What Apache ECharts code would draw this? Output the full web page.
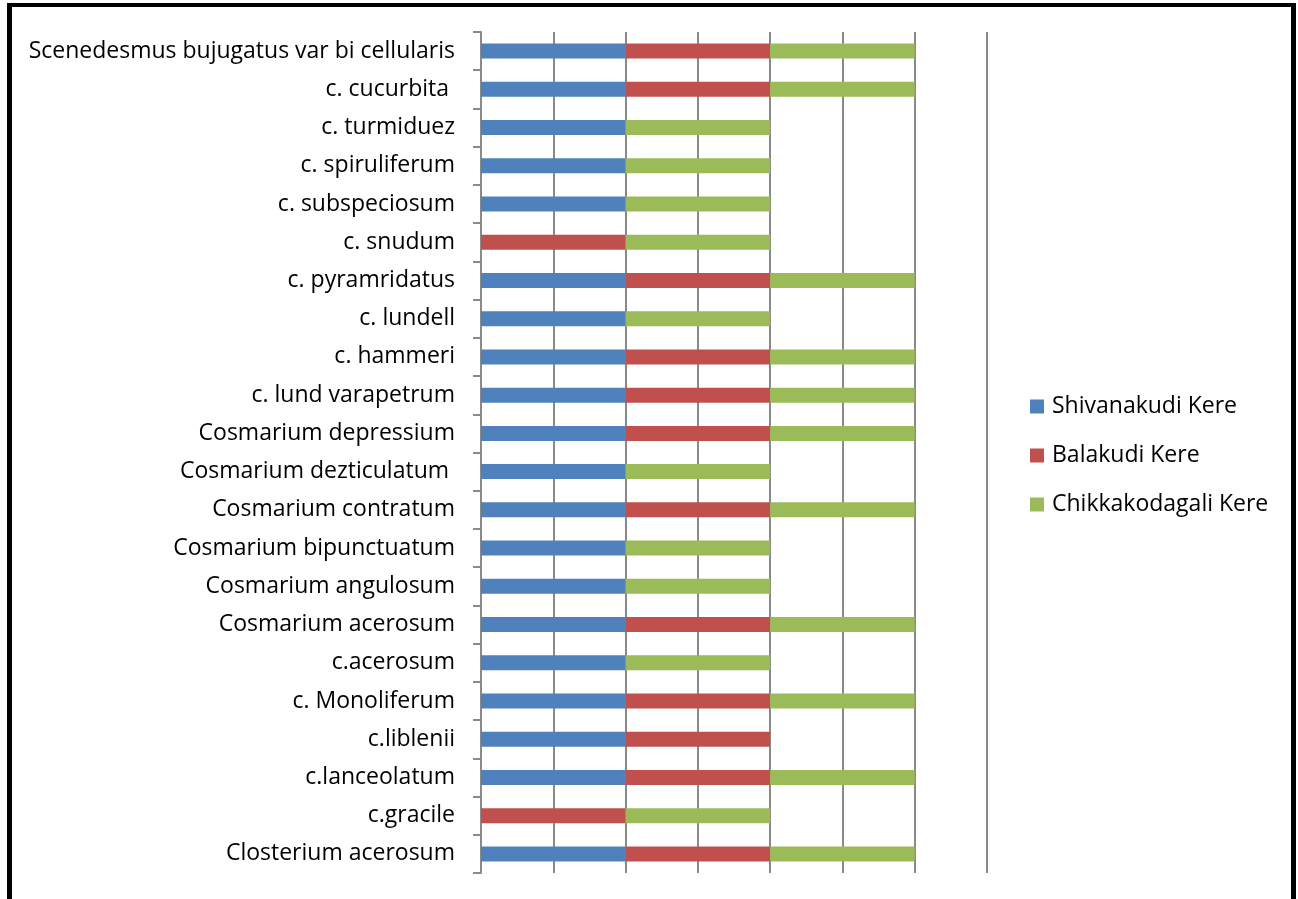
<!DOCTYPE html>
<html>
<head>
<meta charset="utf-8">
<script src="https://cdn.jsdelivr.net/npm/echarts@6/dist/echarts.min.js"></script>
<style>
  html, body { margin: 0; padding: 0; background: #fff; }
  #chart { width: 1298px; height: 899px; }
</style>
</head>
<body>
<div id="chart"></div>
<script>
// Species, listed top to bottom
const species = [
  'Scenedesmus bujugatus var bi cellularis',
  'c. cucurbita ',
  'c. turmiduez',
  'c. spiruliferum',
  'c. subspeciosum',
  'c. snudum',
  'c. pyramridatus',
  'c. lundell',
  'c. hammeri',
  'c. lund varapetrum',
  'Cosmarium depressium',
  'Cosmarium dezticulatum ',
  'Cosmarium contratum',
  'Cosmarium bipunctuatum',
  'Cosmarium angulosum',
  'Cosmarium acerosum',
  'c.acerosum',
  'c. Monoliferum',
  'c.liblenii',
  'c.lanceolatum',
  'c.gracile',
  'Closterium acerosum'
];

// Presence (1) / absence (0) at each lake, same order as species
const shivanakudi = [1,1,1,1,1,0,1,1,1,1,1,1,1,1,1,1,1,1,1,1,0,1];
const balakudi    = [1,1,0,0,0,1,1,0,1,1,1,0,1,0,0,1,0,1,1,1,1,1];
const chikkakodagali = [1,1,1,1,1,1,1,1,1,1,1,1,1,1,1,1,1,1,0,1,1,1];

const seriesNames = ['Shivanakudi Kere', 'Balakudi Kere', 'Chikkakodagali Kere'];
const seriesColors = ['#4F81BD', '#C0504D', '#9BBB59'];

const chart = echarts.init(document.getElementById('chart'), null, { renderer: 'canvas' });
const FONT = 'Open Sans';
const FONT_SIZE = 23;

const makeSeries = (name, data, color) => ({
  name: name,
  type: 'bar',
  stack: 'presence',
  barWidth: 15,
  data: data,
  itemStyle: { color: color },
  emphasis: { disabled: true }
});

chart.setOption({
  animation: false,
  backgroundColor: '#fff',
  textStyle: { fontFamily: FONT },
  grid: { left: 481, right: 311, top: 32, bottom: 26, containLabel: false },
  legend: {
    orient: 'vertical',
    left: 1030,
    top: 395,
    padding: 0,
    itemWidth: 14,
    itemHeight: 14,
    itemGap: 26,
    icon: 'rect',
    textStyle: { fontFamily: FONT, fontSize: FONT_SIZE, color: '#000', padding: [0, 0, 0, 3] },
    data: seriesNames
  },
  xAxis: {
    type: 'value',
    min: 0,
    max: 3.5,
    interval: 0.5,
    axisLine: { show: false },
    axisTick: { show: false },
    axisLabel: { show: false },
    splitLine: { show: true, lineStyle: { color: '#8a8a8a', width: 2 } }
  },
  yAxis: {
    type: 'category',
    inverse: true,
    data: species,
    axisLine: { show: true, lineStyle: { color: '#8a8a8a', width: 2 } },
    axisTick: { show: true, length: 8, lineStyle: { color: '#8a8a8a', width: 2 } },
    axisLabel: { fontFamily: FONT, fontSize: FONT_SIZE, color: '#000', margin: 26, padding: [2, 0, 0, 0] }
  },
  series: [
    makeSeries(seriesNames[0], shivanakudi, seriesColors[0]),
    makeSeries(seriesNames[1], balakudi, seriesColors[1]),
    makeSeries(seriesNames[2], chikkakodagali, seriesColors[2])
  ],
  graphic: [
    // outer frame (top, left, right edges)
    { type: 'rect', shape: { x: 7, y: 3, width: 1289, height: 4 }, style: { fill: '#000' } },
    { type: 'rect', shape: { x: 7, y: 3, width: 5, height: 896 }, style: { fill: '#000' } },
    { type: 'rect', shape: { x: 1291, y: 3, width: 5, height: 896 }, style: { fill: '#000' } }
  ]
});
</script>
</body>
</html>
